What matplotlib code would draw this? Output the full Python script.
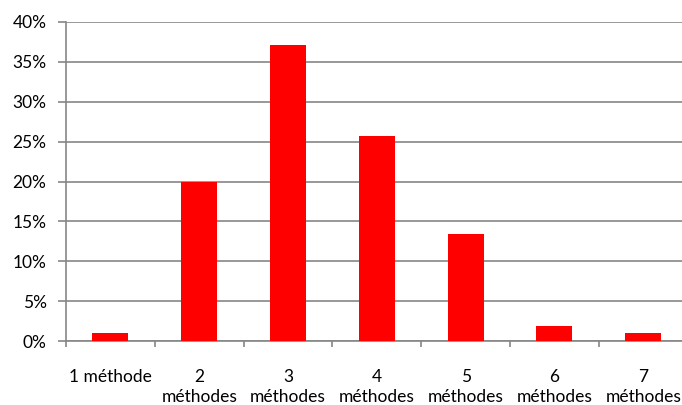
import matplotlib.pyplot as plt
import matplotlib.ticker as ticker
import numpy as np

plt.rcParams["font.family"] = ["Lato", "DejaVu Sans"]

# share of respondents by number of methods used
categories = ["1 méthode", "2\nméthodes", "3\nméthodes", "4\nméthodes",
              "5\nméthodes", "6\nméthodes", "7\nméthodes"]
shares = [0.010, 0.199, 0.371, 0.257, 0.134, 0.019, 0.010]
y_ticks = [0.0, 0.05, 0.10, 0.15, 0.20, 0.25, 0.30, 0.35, 0.40]

grey = "#868686"

fig = plt.figure(figsize=(6.82, 4.05), dpi=100)
ax = fig.add_axes([66 / 682, 1 - 341 / 405, 621.6 / 682, 319 / 405])

x = np.arange(len(categories))
ax.bar(x, shares, width=0.405, color="#ff0000", zorder=3)

ax.set_xlim(-0.5, len(categories) - 0.5)
ax.set_ylim(0, 0.40)
ax.set_yticks(y_ticks)
ax.yaxis.set_major_formatter(ticker.FuncFormatter(lambda v, pos: f"{v*100:.0f}%"))
ax.yaxis.grid(True, color=grey, linewidth=1.2, zorder=0)

ax.set_xticks(x)
ax.set_xticklabels(categories, linespacing=1.3)
ax.set_xticks(np.arange(len(categories)) - 0.5, minor=True)

for side in ["top", "right"]:
    ax.spines[side].set_visible(False)
for side in ["left", "bottom"]:
    ax.spines[side].set_color(grey)
    ax.spines[side].set_linewidth(1.2)

ax.tick_params(axis="y", direction="out", length=6, width=1.2, color=grey,
               pad=8.0, labelsize=12.5, labelcolor="black")
ax.tick_params(axis="x", which="major", length=0, pad=20, labelsize=12.5)
ax.tick_params(axis="x", which="minor", direction="out", length=4.5,
               width=1.2, color=grey)

fig.savefig("out.png", dpi=100)
